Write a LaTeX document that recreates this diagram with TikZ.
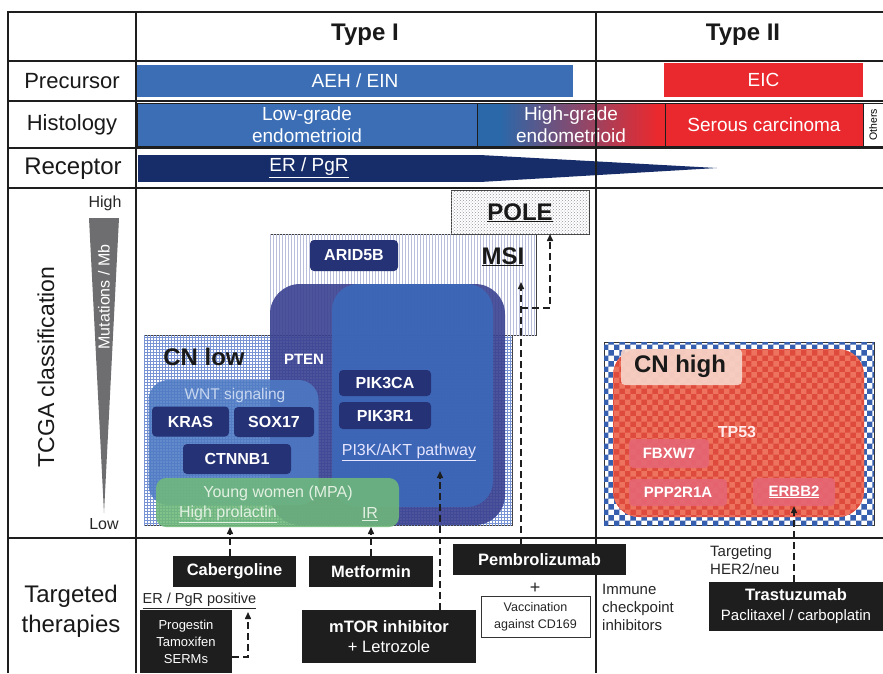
\documentclass[tikz,border=0pt]{standalone}
\usepackage{fontspec}
\setmainfont{Liberation Sans}
\usepackage{tikz}
\usetikzlibrary{positioning,patterns,arrows.meta}
\usepackage{xcolor}

\definecolor{tblline}{RGB}{30,30,30}
\definecolor{aehblue}{RGB}{59,110,181}
\definecolor{hgblue}{RGB}{42,104,170}
\definecolor{eicred}{RGB}{234,41,46}
\definecolor{ernavy}{RGB}{23,45,105}
\definecolor{mutgray}{RGB}{110,110,112}
\definecolor{genenavy}{RGB}{38,50,118}
\definecolor{ptendark}{RGB}{58,66,145}
\definecolor{pikblue}{RGB}{60,105,185}
\definecolor{wntblue}{RGB}{78,122,196}
\definecolor{wnttxt}{RGB}{200,215,240}
\definecolor{youngreen}{RGB}{112,185,122}
\definecolor{youngtxt}{RGB}{225,240,225}
\definecolor{gridblue}{RGB}{120,148,212}
\definecolor{msidot}{RGB}{185,190,220}
\definecolor{poledot}{RGB}{150,150,160}
\definecolor{checkblue}{RGB}{55,95,175}
\definecolor{cnred}{RGB}{222,74,60}
\definecolor{cnredchk}{RGB}{238,115,95}
\definecolor{cnpink}{RGB}{246,212,200}
\definecolor{redgene}{RGB}{229,102,116}
\definecolor{drugblk}{RGB}{30,30,30}

\tikzset{
  tbl/.style={line width=1.8pt, draw=tblline},
  bar/.style={inner sep=0pt, outer sep=0pt, text=white, align=center,
    font=\fontsize{19}{22}\selectfont},
  histbox/.style={bar, draw=tblline, line width=1pt},
  rowlabel/.style={align=center, text=black!90, font=\fontsize{22}{26}\selectfont},
  typelabel/.style={text=black!90, font=\bfseries\fontsize{24}{28}\selectfont},
  subtitle/.style={text=black!90, inner sep=0pt, font=\bfseries\fontsize{24}{28}\selectfont},
  region/.style={rectangle, inner sep=0pt, outer sep=0pt},
  genebox/.style={rectangle, rounded corners=4pt, fill=genenavy, text=white, inner sep=0pt,
    font=\bfseries\fontsize{16}{18}\selectfont},
  redgenebox/.style={genebox, fill=redgene, fill opacity=0.9, text opacity=1,
    font=\bfseries\fontsize{15}{18}\selectfont},
  drugbox/.style={fill=drugblk, text=white, align=center, inner sep=0pt,
    font=\fontsize{16.5}{20}\selectfont},
  drugbold/.style={drugbox, font=\bfseries\fontsize{16.5}{20}\selectfont},
  note/.style={align=left, inner sep=0pt, text=black!85, font=\fontsize{15}{18}\selectfont},
  dashline/.style={line width=1.5pt, dash pattern=on 7pt off 4pt, draw=drugblk},
  dasharrow/.style={dashline, -{Triangle[length=7pt,width=6pt]}},
}

\begin{document}
\begin{tikzpicture}[x=1pt,y=1pt,yscale=-1]
\useasboundingbox (0,0) rectangle (883,673);
\fill[white] (0,0) rectangle (883,673);

% Header
\node[typelabel] (type1) at (365,35) {Type I};
\node[typelabel] (type2) at (743,35) {Type II};

% Row labels
\node[rowlabel] (precursor) at (72,81) {Precursor};
\node[rowlabel] (histology) at (72,125) {Histology};
\node[rowlabel, font=\fontsize{24}{28}\selectfont] (receptor) at (73,169) {Receptor};
\node[rowlabel, rotate=90, font=\fontsize{23}{28}\selectfont] (tcga) at (46,367) {TCGA classification};
\node[rowlabel, font=\fontsize{24}{30}\selectfont] (therapy) at (71,611) {Targeted\\therapies};

% Precursor
\node[bar, fill=aehblue, minimum width=436pt, minimum height=32pt] (aeh) at (355,81) {AEH / EIN};
\node[bar, fill=eicred, minimum width=199pt, minimum height=34pt] (eic) at (763.5,80) {EIC};

% Histology
\node[histbox, fill=aehblue, minimum width=340pt, minimum height=43pt] (lowgrade) at (307,124.5) {Low-grade\\endometrioid};
\node[histbox, fill=eicred, minimum width=188pt, minimum height=43pt,
  path picture={
    \fill[hgblue] (path picture bounding box.south west) rectangle ([xshift=22pt]path picture bounding box.north west);
    \shade[left color=hgblue, right color=eicred] ([xshift=22pt]path picture bounding box.south west) rectangle ([xshift=-8pt]path picture bounding box.north east);
  }] (highgrade) at (571,124.5) {High-grade\\endometrioid};
\node[histbox, fill=eicred, minimum width=198pt, minimum height=43pt] (serous) at (764,124.5) {Serous carcinoma};
\node[histbox, fill=white, minimum width=20pt, minimum height=43pt] (othersbox) at (873,124.5) {};
\node[rotate=90, inner sep=0pt, font=\fontsize{10.5}{12}\selectfont] (others) at (othersbox) {Others};

% Receptor
\fill[ernavy] (138,155) rectangle (480,182);
\fill[ernavy] (480,155) -- (717,168) -- (480,182) -- cycle;
\node[bar] (erpgr) at (309,168) {\underline{ER / PgR}};

% Table
\draw[tbl] (8,673) -- (8,12) -- (883,12);
\draw[tbl] (136,12) -- (136,673);
\draw[tbl] (596,12) -- (596,673);
\foreach \y in {61,101,148,188,538}
  \draw[tbl] (8,\y) -- (883,\y);

% Mutations / Mb
\fill[mutgray] (89,218) -- (119,218) -- (104,513) -- cycle;
\node[text=black!85, font=\fontsize{16}{18}\selectfont] (high) at (105,203) {High};
\node[text=black!85, font=\fontsize{16}{18}\selectfont] (low) at (104,524) {Low};
\node[rotate=90, text=white, font=\fontsize{16}{18}\selectfont] (mutmb) at (104,297) {Mutations / Mb};

% TCGA subgroups
\node[region, draw=black!75, line width=0.8pt, fill=white, postaction={pattern=grid, pattern color=gridblue},
  minimum width=368pt, minimum height=190pt] (cnlow) at (328,430) {};
\node[region, draw=black!75, line width=0.8pt, fill=white, postaction={pattern=vertical lines, pattern color=msidot},
  minimum width=266pt, minimum height=101pt] (msibox) at (403,284.5) {};
\node[region, draw=black!75, line width=0.8pt, fill=white, postaction={pattern=crosshatch dots, pattern color=poledot},
  minimum width=138pt, minimum height=44pt] (polebox) at (520,212) {};

\node[region, rounded corners=30pt, fill=ptendark, fill opacity=0.9, minimum width=235pt, minimum height=241pt] (ptenreg) at (387.5,404.5) {};
\node[region, rounded corners=26pt, fill=pikblue, fill opacity=0.9, minimum width=161pt, minimum height=223pt] (pi3kreg) at (412.5,395.5) {};
\node[region, rounded corners=20pt, fill=wntblue, fill opacity=0.88, minimum width=170pt, minimum height=125pt] (wntreg) at (233.5,442.5) {};
\node[region, rounded corners=10pt, fill=youngreen, fill opacity=0.88, minimum width=243pt, minimum height=49pt] (young) at (277.5,502.5) {};

\node[subtitle, anchor=base] (cnlowlbl) at (204,365) {CN low};
\node[subtitle, anchor=base] (msilbl) at (503,264) {\underline{MSI}};
\node[subtitle, anchor=base] (polelbl) at (520,220) {\underline{POLE}};

\node[genebox, minimum width=88pt, minimum height=31pt] (arid) at (354,255.5) {ARID5B};
\node[text=white, font=\bfseries\fontsize{15}{18}\selectfont] (pten) at (304,359) {PTEN};
\node[genebox, minimum width=92pt, minimum height=26pt] (pik3ca) at (385,383) {PIK3CA};
\node[genebox, minimum width=92pt, minimum height=27pt] (pik3r1) at (385,415.5) {PIK3R1};
\node[text=white!90!blue, font=\fontsize{16}{18}\selectfont] (pi3ktxt) at (409,452) {\underline{PI3K/AKT pathway}};

\node[text=wnttxt, font=\fontsize{15.5}{18}\selectfont] (wnttxt) at (235,395) {WNT signaling};
\node[genebox, minimum width=77pt, minimum height=30pt] (kras) at (190.5,421.5) {KRAS};
\node[genebox, minimum width=80pt, minimum height=30pt] (sox17) at (274,422) {SOX17};
\node[genebox, minimum width=108pt, minimum height=30pt] (ctnnb1) at (237,459) {CTNNB1};

\node[text=youngtxt, font=\fontsize{16}{18}\selectfont] (ywtxt) at (278,493) {Young women (MPA)};
\node[text=youngtxt, font=\fontsize{16}{18}\selectfont] (prl) at (228,514) {\underline{High prolactin}};
\node[text=youngtxt, font=\fontsize{16}{18}\selectfont] (ir) at (370,514) {\underline{IR}};

% CN high
\node[region, draw=black!80, line width=0.8pt, fill=white, postaction={pattern=checkerboard, pattern color=checkblue},
  minimum width=270pt, minimum height=183pt] (cnhighbox) at (739,433.5) {};
\node[region, rounded corners=26pt, fill=cnred, postaction={pattern=checkerboard, pattern color=cnredchk},
  minimum width=251pt, minimum height=168pt] (cnhighreg) at (738.5,433) {};
\node[region, rounded corners=4pt, fill=cnpink, fill opacity=0.92, minimum width=121pt, minimum height=36pt] (cnhighttl) at (681.5,367) {};
\node[subtitle, anchor=base] (cnhighlbl) at (680,372) {CN high};
\node[text=white!92!red, font=\bfseries\fontsize{16}{18}\selectfont] (tp53) at (737,432) {TP53};
\node[redgenebox, minimum width=80pt, minimum height=29pt] (fbxw7) at (669,453.5) {FBXW7};
\node[redgenebox, minimum width=98pt, minimum height=27pt] (ppp2r1a) at (678,492.5) {PPP2R1A};
\node[redgenebox, minimum width=82pt, minimum height=28pt] (erbb2) at (794,492) {\underline{ERBB2}};

% Targeted therapies
\node[drugbold, minimum width=123pt, minimum height=31pt] (cab) at (234.5,571.5) {Cabergoline};
\node[drugbold, minimum width=124pt, minimum height=31pt] (metf) at (371,571.5) {Metformin};
\node[drugbox, minimum width=174pt, minimum height=53pt] (mtor) at (389,636.5) {{\bfseries mTOR inhibitor}\\+ Letrozole};
\node[drugbold, minimum width=173pt, minimum height=31pt] (pembro) at (539.5,559.5) {Pembrolizumab};
\node[text=black!85, font=\fontsize{18}{20}\selectfont] (plus) at (535,588) {+};
\node[draw=black!80, line width=0.8pt, align=center, inner sep=0pt, minimum width=109pt, minimum height=41pt,
  text=black!85, font=\fontsize{12.5}{17}\selectfont] (vacc) at (535.5,616.5) {Vaccination\\against CD169};
\node[note, anchor=west] (immune) at (602,607) {Immune\\checkpoint\\inhibitors};
\node[note, anchor=west] (her2) at (710,560) {Targeting\\HER2/neu};
\node[drugbox, minimum width=174pt, minimum height=49pt] (trast) at (796,606.5) {{\bfseries Trastuzumab}\\{\fontsize{15}{18}\selectfont Paclitaxel / carboplatin}};
\node[note, font=\fontsize{14.5}{17}\selectfont] (erpos) at (199.5,601) {\underline{ER / PgR positive}};
\node[drugbox, font=\fontsize{13}{17}\selectfont, minimum width=92pt, minimum height=63pt] (prog) at (186,641.5) {Progestin\\Tamoxifen\\SERMs};

% Connectors
\coordinate (pathtip) at (440,471);
\coordinate (msitip) at (521,282);
\coordinate (poleturn) at (521,308);
\coordinate (erpostip) at (248,612);
\draw[dasharrow] ([xshift=-4.5pt]cab.north) -- ([xshift=-4.5pt]cab.north |- young.south);
\draw[dasharrow] (metf.north) -- (metf.north |- young.south);
\draw[dasharrow] (mtor.north -| pathtip) -- (pathtip);
\draw[dasharrow] (pembro.north -| msitip) -- (msitip);
\draw[dasharrow] (poleturn) -| ([xshift=30pt]polebox.south);
\draw[dasharrow] (trast.north -| erbb2.south) -- (erbb2.south);
\draw[dasharrow] (prog.east |- 0,657) -| (erpostip);

\end{tikzpicture}
\end{document}
